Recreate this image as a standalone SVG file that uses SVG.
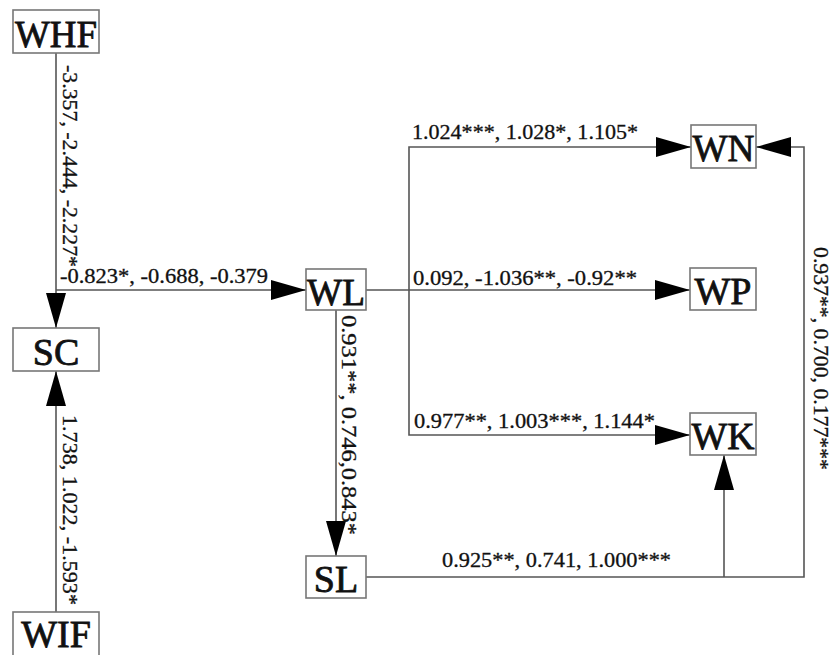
<svg xmlns="http://www.w3.org/2000/svg" width="832" height="655" viewBox="0 0 832 655">
<style>
.box{fill:#fff;stroke:#777;stroke-width:1.6}
.nt{font-family:"Liberation Serif","Times New Roman",serif;font-size:38px;fill:#111;stroke:#111;stroke-width:0.8;text-anchor:middle}
.lb{font-family:"Liberation Serif","Times New Roman",serif;font-size:20px;fill:#111;stroke:#111;stroke-width:0.3}
.ln{fill:none;stroke:#555;stroke-width:1.6}
</style>
<defs>
<marker id="ah" markerUnits="userSpaceOnUse" markerWidth="36" markerHeight="22" refX="35" refY="10" orient="auto">
<path d="M0,0 L35,10 L0,20 Z" fill="#000"/>
</marker>
</defs>
<rect width="832" height="655" fill="#fff"/>
<g id="connectors">
<path class="ln" d="M56,53 V328" marker-end="url(#ah)"/>
<path class="ln" d="M56,290 H306" marker-end="url(#ah)"/>
<path class="ln" d="M56,612 V371" marker-end="url(#ah)"/>
<path class="ln" d="M336,310 V556" marker-end="url(#ah)"/>
<path class="ln" d="M366,290 H690" marker-end="url(#ah)"/>
<path class="ln" d="M409,290 V147 H691" marker-end="url(#ah)"/>
<path class="ln" d="M409,290 V435 H690" marker-end="url(#ah)"/>
<path class="ln" d="M366,577 H804 V147 H756" marker-end="url(#ah)"/>
<path class="ln" d="M724,577 V455" marker-end="url(#ah)"/>
<text class="lb" transform="translate(63,65) rotate(90)" textLength="202" lengthAdjust="spacingAndGlyphs">-3.357, -2.444, -2.227*</text>
<text class="lb" x="60" y="283" textLength="208" lengthAdjust="spacingAndGlyphs">-0.823*, -0.688, -0.379</text>
<text class="lb" transform="translate(63,415) rotate(90)" textLength="190" lengthAdjust="spacingAndGlyphs">1.738, 1.022, -1.593*</text>
<text class="lb" transform="translate(342,315) rotate(90)" textLength="220" lengthAdjust="spacingAndGlyphs">0.931**, 0.746,0.843*</text>
<text class="lb" x="412" y="139" textLength="226" lengthAdjust="spacingAndGlyphs">1.024***, 1.028*, 1.105*</text>
<text class="lb" x="413" y="285" textLength="224" lengthAdjust="spacingAndGlyphs">0.092, -1.036**, -0.92**</text>
<text class="lb" x="414" y="428" textLength="241" lengthAdjust="spacingAndGlyphs">0.977**, 1.003***, 1.144*</text>
<text class="lb" x="442" y="567" textLength="229" lengthAdjust="spacingAndGlyphs">0.925**, 0.741, 1.000***</text>
<text class="lb" transform="translate(814,247) rotate(90)" textLength="223" lengthAdjust="spacingAndGlyphs">0.937**, 0.700, 0.177***</text>
</g>
<g id="WHF"><rect class="box" x="13" y="10" width="86" height="43"/><text class="nt" x="56" y="47" textLength="82" lengthAdjust="spacingAndGlyphs">WHF</text></g>
<g id="SC"><rect class="box" x="13" y="328" width="86" height="43"/><text class="nt" x="56" y="365">SC</text></g>
<g id="WIF"><rect class="box" x="13" y="612" width="86" height="50"/><text class="nt" x="56" y="647">WIF</text></g>
<g id="WL"><rect class="box" x="306" y="269" width="60" height="41"/><text class="nt" x="336" y="305" textLength="58" lengthAdjust="spacingAndGlyphs">WL</text></g>
<g id="SL"><rect class="box" x="306" y="556" width="60" height="42"/><text class="nt" x="336" y="592">SL</text></g>
<g id="WN"><rect class="box" x="691" y="125" width="65" height="43"/><text class="nt" x="723.5" y="161" textLength="62" lengthAdjust="spacingAndGlyphs">WN</text></g>
<g id="WP"><rect class="box" x="690" y="268" width="66" height="42"/><text class="nt" x="723" y="304">WP</text></g>
<g id="WK"><rect class="box" x="690" y="413" width="66" height="42"/><text class="nt" x="723" y="449" textLength="63" lengthAdjust="spacingAndGlyphs">WK</text></g>
</svg>
